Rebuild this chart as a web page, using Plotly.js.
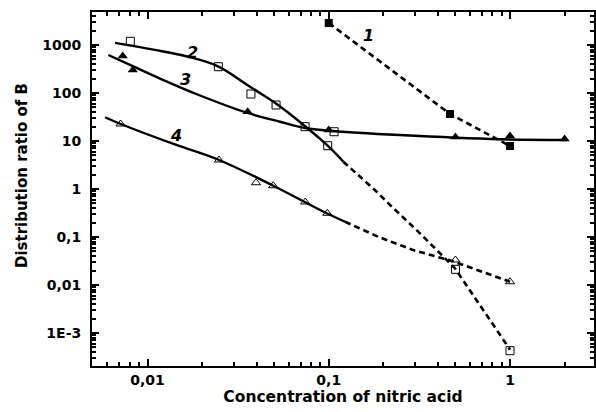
<!DOCTYPE html>
<html>
<head>
<meta charset="utf-8">
<script src="https://cdn.plot.ly/plotly-3.0.1.min.js"></script>
<style>
  html, body { margin: 0; padding: 0; background: #fff; }
  #chart { width: 596px; height: 412px; }
</style>
</head>
<body>
<div id="chart"></div>
<script>
// Measured distribution ratios (markers)
const s1X = [0.1, 0.4667, 1];
const s1Y = [2873, 36.5, 7.87];

const s2X = [0.00804, 0.0246, 0.0372, 0.0512, 0.074, 0.107, 0.0987, 0.5, 1];
const s2Y = [1194, 353, 95.3, 56.2, 19.9, 15.6, 7.98, 0.0212, 0.000428];

const s3X = [0.0073, 0.0083, 0.0357, 0.1, 0.5, 1, 2];
const s3Y = [590, 301, 40.8, 16.9, 12.1, 12.7, 11.0];

const s4X = [0.00711, 0.0248, 0.0397, 0.0494, 0.0742, 0.0982, 0.5, 1];
const s4Y = [22.6, 4.02, 1.35, 1.17, 0.536, 0.312, 0.0332, 0.0117];

// Fitted curves (solid part) and their extrapolations (dashed part)
const fit2X = [0.00662, 0.011, 0.01673, 0.0245, 0.03676, 0.0516, 0.0755, 0.099, 0.1203];
const fit2Y = [1110, 790, 570, 360, 135, 59, 19.1, 7.87, 3.71];
const ext2X = [0.1203, 0.1839, 0.2131, 0.3187, 0.497, 1];
const ext2Y = [3.71, 0.878, 0.503, 0.119, 0.0223, 0.00045];

const fit3X = [0.00608, 0.00835, 0.01172, 0.0195, 0.03526, 0.0538, 0.0755, 0.1007, 0.247, 0.881, 2.063];
const fit3Y = [619, 358, 200, 88.7, 38.9, 25.2, 18.4, 16.4, 13.3, 10.85, 10.5];

const fit4X = [0.00583, 0.00711, 0.01418, 0.0248, 0.0494, 0.0974, 0.123];
const fit4Y = [31.2, 22.6, 8.46, 4.02, 1.17, 0.312, 0.208];
const ext4X = [0.123, 0.187, 0.2916, 0.479, 1];
const ext4Y = [0.208, 0.1015, 0.0536, 0.0316, 0.0117];

// Axis ticks
const xTickVals = [0.01, 0.1, 1];
const xTickText = ['0,01', '0,1', '1'];
const yTickVals = [0.001, 0.01, 0.1, 1, 10, 100, 1000];
const yTickText = ['1E-3', '0,01', '0,1', '1', '10', '100', '1000'];

// Axis titles and curve numbers
const xTitle = 'Concentration of nitric acid';
const yTitle = 'Distribution ratio of B';
const curveLabels = ['1', '2', '3', '4'];

const black = '#000000';
const solid = {color: black, width: 2.4, shape: 'spline', smoothing: 1};
const dashed = {color: black, width: 2.6, dash: '6px,4px'};

const traces = [
  {x: fit2X, y: fit2Y, mode: 'lines', line: solid},
  {x: ext2X, y: ext2Y, mode: 'lines', line: dashed},
  {x: fit3X, y: fit3Y, mode: 'lines', line: solid},
  {x: fit4X, y: fit4Y, mode: 'lines', line: solid},
  {x: ext4X, y: ext4Y, mode: 'lines', line: dashed},
  {x: s1X, y: s1Y, mode: 'lines+markers', line: dashed,
   marker: {symbol: 'square', size: 8, color: black}},
  {x: s2X, y: s2Y, mode: 'markers',
   marker: {symbol: 'square-open', size: 8, color: black, line: {width: 1, color: black}}},
  {x: s3X, y: s3Y, mode: 'markers',
   marker: {symbol: 'triangle-up', size: 9, color: black}},
  {x: s4X, y: s4Y, mode: 'markers',
   marker: {symbol: 'triangle-up-open', size: 8, color: black, line: {width: 1, color: black}}}
];

// fresh objects for each axis so nothing is shared between them
function tickFont() {
  return {family: 'DejaVu Sans, sans-serif', size: 14, color: black, weight: 'bold'};
}
function minorTicks() {
  return {ticks: 'inside', ticklen: 4, tickwidth: 1.5, tickcolor: black, dtick: 'D1'};
}
const titleFont = {family: 'DejaVu Sans, sans-serif', size: 15.5, color: black, weight: 'bold'};
const yTitleFont = {family: 'DejaVu Sans, sans-serif', size: 15, color: black, weight: 'bold'};
const labelFont = {family: 'DejaVu Sans, sans-serif', size: 16, color: black, weight: 'bold', style: 'italic'};

const labelPos = [[-0.783, 3.208], [-1.749, 2.854], [-1.788, 2.271], [-1.843, 1.125]];
const annotations = curveLabels.map((t, i) => ({
  text: t, x: labelPos[i][0], y: labelPos[i][1], xref: 'x', yref: 'y',
  showarrow: false, font: labelFont, xanchor: 'center', yanchor: 'middle'
}));
annotations.push({
  text: yTitle, xref: 'paper', yref: 'paper', x: -0.1394, y: 0.5367,
  textangle: -90, showarrow: false, font: yTitleFont,
  xanchor: 'center', yanchor: 'middle'
});

const layout = {
  width: 596, height: 412,
  margin: {l: 92, r: 2, t: 12, b: 46},
  paper_bgcolor: '#ffffff', plot_bgcolor: '#ffffff',
  showlegend: false,
  xaxis: {
    type: 'log', range: [-2.3062, 0.4634], showgrid: false, zeroline: false,
    showline: true, linewidth: 2, linecolor: black, mirror: 'ticks',
    ticks: 'inside', ticklen: 7, tickwidth: 2, tickcolor: black,
    tickmode: 'array', tickvals: xTickVals, ticktext: xTickText,
    tickfont: tickFont(),
    minor: minorTicks(),
    title: {text: xTitle, font: titleFont, standoff: 4}
  },
  yaxis: {
    type: 'log', range: [-3.6875, 3.6875], showgrid: false, zeroline: false,
    showline: true, linewidth: 2, linecolor: black, mirror: 'ticks',
    ticks: 'inside', ticklen: 7, tickwidth: 2, tickcolor: black,
    tickmode: 'array', tickvals: yTickVals, ticktext: yTickText,
    tickfont: tickFont(), ticklabelstandoff: 6,
    minor: minorTicks()
  },
  annotations: annotations
};

Plotly.newPlot('chart', traces, layout, {displayModeBar: false});
</script>
</body>
</html>
